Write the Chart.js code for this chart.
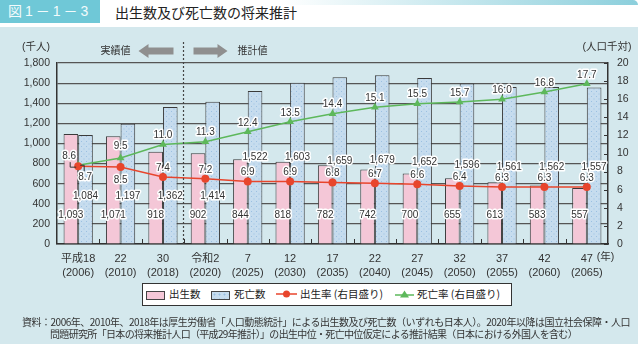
<!DOCTYPE html>
<html lang="ja">
<head>
<meta charset="utf-8">
<script src="https://cdn.jsdelivr.net/npm/chart.js@4.4.1/dist/chart.umd.min.js"></script>
<style>
  body { margin: 0; background: #fff; font-family: 'Noto Sans CJK JP', sans-serif; }
  #wrap { position: relative; width: 638px; height: 344px; overflow: hidden; background: #fff; }
  .topline { position: absolute; left: 280px; top: 0; width: 358px; height: 5px;
    background: linear-gradient(to right, rgba(140,207,220,0), #8ccfdc); border-top-right-radius: 12px; }
  .panel { position: absolute; left: 0; top: 27px; width: 638px; height: 317px; background: #d4e8ed; }
  .figno { position: absolute; left: 0; top: 0; width: 100px; height: 23px; background: #6fc8d7;
    color: #f2fbfc; font-size: 14px; line-height: 23px; padding-left: 8px; box-sizing: border-box;
    white-space: nowrap; letter-spacing: 3px; font-family: 'Liberation Sans', 'Noto Sans CJK JP', sans-serif; }
  .title { position: absolute; left: 115px; top: 0; line-height: 24px; font-size: 14px; color: #222; white-space: nowrap; }
  canvas { position: absolute; left: 0; top: 0; }
  .legend { position: absolute; left: 142px; top: 283px; width: 370px; height: 23px; box-sizing: border-box;
    border: 1.5px solid #333; background: #fff; }
  .item { position: absolute; top: 0; height: 20px; line-height: 20px; font-size: 10.5px; color: #222; white-space: nowrap; }
  .sw { position: absolute; top: 7px; width: 17px; height: 7px; border: 1.5px solid #444; }
  .sw.birth { background: #f4c7d7; }
  .sw.death { background-color: #c6dcee;
    background-image: radial-gradient(circle, #97bde0 0.9px, transparent 1.1px); background-size: 5px 5px; }
  .mk { position: absolute; top: 4px; }
  .note { position: absolute; font-size: 10px; color: #333; white-space: nowrap; line-height: 12px; }
</style>
</head>
<body>
<div id="wrap">
  <div class="topline"></div>
  <div class="panel"></div>
  <div class="figno">図1－1－3</div>
  <div class="title">出生数及び死亡数の将来推計</div>
  <canvas id="births" width="638" height="344"></canvas>
  <div class="legend">
    <span class="sw birth" style="left:3px"></span><span class="item" style="left:26px">出生数</span>
    <span class="sw death" style="left:68px"></span><span class="item" style="left:91px">死亡数</span>
    <svg class="mk" style="left:133px" width="21" height="12"><line x1="0" y1="6" x2="21" y2="6" stroke="#e8452c" stroke-width="1.5"/><circle cx="10.5" cy="6" r="3.5" fill="#e8452c"/></svg>
    <span class="item" style="left:157px">出生率 (右目盛り)</span>
    <svg class="mk" style="left:252px" width="19" height="12"><line x1="0" y1="7" x2="19" y2="7" stroke="#5db85b" stroke-width="1.5"/><polygon points="9.5,2.5 14,9.5 5,9.5" fill="#5db85b"/></svg>
    <span class="item" style="left:274px">死亡率 (右目盛り)</span>
  </div>
  <div class="note" style="top:316px; left:22px" data-w="608">資料：2006年、2010年、2018年は厚生労働省「人口動態統計」による出生数及び死亡数（いずれも日本人）。2020年以降は国立社会保障・人口</div>
  <div class="note" style="top:328px; left:50px" data-w="527">問題研究所「日本の将来推計人口（平成29年推計）」の出生中位・死亡中位仮定による推計結果（日本における外国人を含む）</div>
</div>
<script>
// 年次（和暦／西暦）
const years = [['平成18', '(2006)'], ['22', '(2010)'], ['30', '(2018)'], ['令和2', '(2020)'], ['7', '(2025)'],
  ['12', '(2030)'], ['17', '(2035)'], ['22', '(2040)'], ['27', '(2045)'], ['32', '(2050)'],
  ['37', '(2055)'], ['42', '(2060)'], ['47', '(2065)']];
// 出生数・死亡数（千人）
const births = [1093, 1071, 918, 902, 844, 818, 782, 742, 700, 655, 613, 583, 557];
const deaths = [1084, 1197, 1362, 1414, 1522, 1603, 1659, 1679, 1652, 1596, 1561, 1562, 1557];
// 出生率・死亡率（人口千対）
const birthRate = [8.6, 8.5, 7.4, 7.2, 6.9, 6.9, 6.8, 6.7, 6.6, 6.4, 6.3, 6.3, 6.3];
const deathRate = [8.7, 9.5, 11.0, 11.3, 12.4, 13.5, 14.4, 15.1, 15.5, 15.7, 16.0, 16.8, 17.7];
// 目盛り
const leftMax = 1800, leftStep = 200;
const rightMax = 20, rightStep = 2;

// where the bar value labels sit (in 千人 on the left scale)
const birthLabelAt = 285;
const deathLabelAt = [470, 470, 470, 470, 865, 865, 825, 835, 815, 785, 765, 765, 765];

const FONT = "'Liberation Sans', 'Noto Sans CJK JP', sans-serif";
const RED = '#e8452c', GREEN = '#5db85b';

// squeeze the source note lines to their column width
document.querySelectorAll('.note').forEach(el => {
  const natural = el.getBoundingClientRect().width;
  const n = el.textContent.length;
  el.style.letterSpacing = ((+el.dataset.w - natural) / n) + 'px';
});

// dotted fill for the 死亡数 bars
function dotPattern() {
  const c = document.createElement('canvas');
  c.width = 5; c.height = 5;
  const g = c.getContext('2d');
  g.fillStyle = '#c6dcee';
  g.fillRect(0, 0, 5, 5);
  g.fillStyle = '#9cc0e1';
  g.fillRect(1, 1, 1, 1);
  g.fillRect(3.5, 3.5, 1, 1);
  return g.createPattern(c, 'repeat');
}

function halo(ctx, txt, x, y) {
  ctx.strokeStyle = '#fff';
  ctx.lineWidth = 3;
  ctx.strokeText(txt, x, y);
  ctx.fillStyle = '#333';
  ctx.fillText(txt, x, y);
}

const valueLabels = {
  id: 'valueLabels',
  afterDatasetsDraw(chart) {
    const { ctx } = chart;
    const y = chart.scales.y;
    ctx.save();
    ctx.font = '10px ' + FONT;
    ctx.textAlign = 'center';
    ctx.textBaseline = 'middle';
    ctx.lineJoin = 'round';
    chart.getDatasetMeta(0).data.forEach((bar, i) =>
      halo(ctx, births[i].toLocaleString('en-US'), bar.x, y.getPixelForValue(birthLabelAt)));
    chart.getDatasetMeta(1).data.forEach((bar, i) =>
      halo(ctx, deaths[i].toLocaleString('en-US'), bar.x, y.getPixelForValue(deathLabelAt[i])));

    const red = chart.getDatasetMeta(2).data;
    const green = chart.getDatasetMeta(3).data;
    // leader lines for the first two labels, which overlap
    ctx.strokeStyle = '#333';
    ctx.lineWidth = 1;
    ctx.beginPath();
    ctx.moveTo(red[0].x - 8, red[0].y - 4);
    ctx.lineTo(red[0].x - 8, red[0].y + 1);
    ctx.lineTo(red[0].x - 2, red[0].y + 1);
    ctx.moveTo(green[0].x + 2, green[0].y);
    ctx.lineTo(green[0].x + 6, green[0].y);
    ctx.lineTo(green[0].x + 6, green[0].y + 6);
    ctx.stroke();

    red.forEach((pt, i) => {
      let dx = 0, dy = -9;
      if (i === 0) { dx = -9; dy = -9.5; }
      if (i === 1) { dy = 13; }
      halo(ctx, birthRate[i].toFixed(1), pt.x + dx, pt.y + dy);
    });
    green.forEach((pt, i) => {
      let dx = 0, dy = -9;
      if (i === 0) { dx = 7; dy = 12; }
      if (i === 1) { dy = -12; }
      halo(ctx, deathRate[i].toFixed(1), pt.x + dx, pt.y + dy);
    });
    ctx.restore();
  }
};

function arrow(ctx, x0, x1, y) {
  // thick gray arrow, head at x1
  const dir = Math.sign(x1 - x0);
  const hx = x1 - dir * 10;
  ctx.beginPath();
  ctx.moveTo(x0, y - 3.5);
  ctx.lineTo(hx, y - 3.5);
  ctx.lineTo(hx, y - 7);
  ctx.lineTo(x1, y);
  ctx.lineTo(hx, y + 7);
  ctx.lineTo(hx, y + 3.5);
  ctx.lineTo(x0, y + 3.5);
  ctx.closePath();
  ctx.fill();
}

const decorations = {
  id: 'decorations',
  afterDraw(chart) {
    const { ctx, chartArea: a } = chart;
    const x = chart.scales.x, y2 = chart.scales.y2;
    ctx.save();
    // small ticks between years along the bottom
    ctx.strokeStyle = '#333';
    ctx.lineWidth = 1;
    ctx.beginPath();
    for (let i = 1; i < years.length; i++) {
      const bx = Math.round((x.getPixelForValue(i - 1) + x.getPixelForValue(i)) / 2) + 0.5;
      ctx.moveTo(bx, a.bottom);
      ctx.lineTo(bx, a.bottom - 5);
    }
    // inward ticks on the right axis
    for (let v = 0; v <= rightMax; v += rightStep) {
      const ty = Math.round(y2.getPixelForValue(v)) + 0.5;
      ctx.moveTo(a.right, ty);
      ctx.lineTo(a.right - 4, ty);
    }
    ctx.stroke();

    // 実績値 / 推計値 divider between 2018 and 2020
    const dx = Math.round((x.getPixelForValue(2) + x.getPixelForValue(3)) / 2) - 0.5;
    ctx.strokeStyle = '#444';
    ctx.lineWidth = 1.2;
    ctx.setLineDash([2, 2]);
    ctx.beginPath();
    ctx.moveTo(dx, 42);
    ctx.lineTo(dx, a.bottom);
    ctx.stroke();
    ctx.setLineDash([]);

    ctx.fillStyle = '#8f8f8f';
    arrow(ctx, dx - 10, dx - 45, 51);
    arrow(ctx, dx + 10, dx + 44, 51);

    ctx.fillStyle = '#333';
    ctx.font = '10px ' + FONT;
    ctx.textBaseline = 'middle';
    ctx.textAlign = 'right';
    ctx.fillText('実績値', dx - 53, 51);
    ctx.textAlign = 'left';
    ctx.fillText('推計値', dx + 54, 51);

    ctx.font = '10.5px ' + FONT;
    ctx.textAlign = 'center';
    ctx.fillText('(千人)', 36, 47);
    ctx.fillText('(人口千対)', 607, 47);
    ctx.textAlign = 'left';
    ctx.fillText('(年)', x.getPixelForValue(years.length - 1) + 10, 257);
    ctx.restore();
  }
};

new Chart(document.getElementById('births'), {
  type: 'bar',
  data: {
    labels: years,
    datasets: [
      { label: '出生数', data: births, yAxisID: 'y', order: 2,
        backgroundColor: '#f4c7d7', borderColor: '#3a3a3a', borderWidth: 1,
        categoryPercentage: 0.69, barPercentage: 1 },
      { label: '死亡数', data: deaths, yAxisID: 'y', order: 2,
        backgroundColor: dotPattern(), borderColor: '#3a3a3a', borderWidth: 1,
        categoryPercentage: 0.69, barPercentage: 1 },
      { type: 'line', label: '出生率（右目盛り）', data: birthRate, yAxisID: 'y2', order: 1,
        borderColor: RED, backgroundColor: RED, borderWidth: 1.5,
        pointStyle: 'circle', pointRadius: 4, pointBorderWidth: 0 },
      { type: 'line', label: '死亡率（右目盛り）', data: deathRate, yAxisID: 'y2', order: 1,
        borderColor: GREEN, backgroundColor: GREEN, borderWidth: 1.5,
        pointStyle: 'triangle', pointRadius: 4.5, pointBorderWidth: 0 }
    ]
  },
  options: {
    responsive: false,
    animation: false,
    devicePixelRatio: 1,
    layout: { padding: { left: 0, right: 0, top: 63, bottom: 60 } },
    plugins: { legend: { display: false }, tooltip: { enabled: false } },
    scales: {
      x: {
        offset: true,
        grid: { display: false },
        border: { display: true, color: '#333', width: 1.5 },
        ticks: { color: '#333', padding: 0, maxRotation: 0, autoSkip: false,
          font: { family: FONT, size: 11, lineHeight: 1.25 } },
        afterFit: s => { s.height = 40; }
      },
      y: {
        position: 'left',
        min: 0, max: leftMax,
        grid: { color: '#555', lineWidth: 1.2, drawTicks: false },
        border: { display: true, color: '#333', width: 1.5 },
        ticks: { stepSize: leftStep, color: '#333', padding: 7,
          font: { family: FONT, size: 10.5 },
          callback: v => v.toLocaleString('en-US') },
        afterFit: s => { s.width = 57; }
      },
      y2: {
        position: 'right',
        min: 0, max: rightMax,
        grid: { drawOnChartArea: false, drawTicks: false },
        border: { display: true, color: '#333', width: 1.5 },
        ticks: { stepSize: rightStep, color: '#333', padding: 9,
          font: { family: FONT, size: 10.5 } },
        afterFit: s => { s.width = 30; }
      }
    }
  },
  plugins: [valueLabels, decorations]
});
</script>
</body>
</html>
